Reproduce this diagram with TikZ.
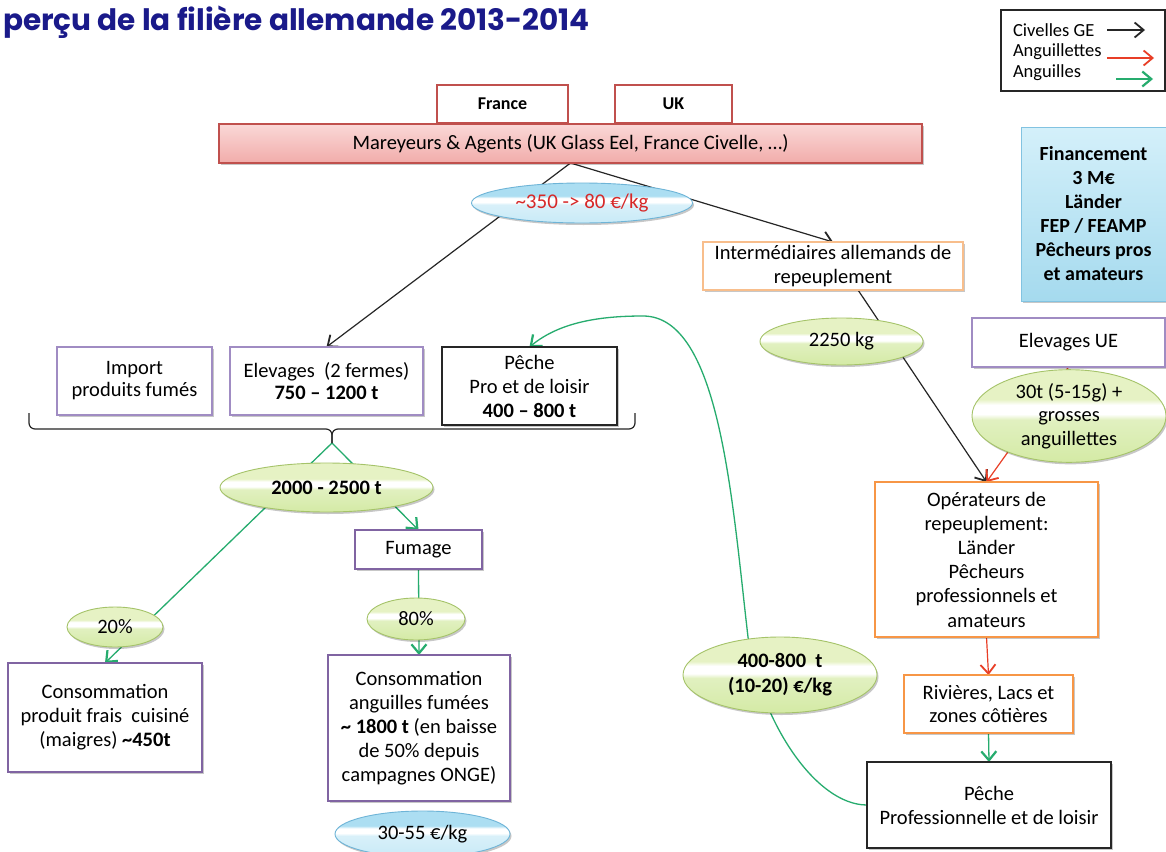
\documentclass[tikz,border=0pt]{standalone}
\usepackage{fontspec}
\setmainfont{Carlito}
\newfontfamily\titlefont{Poppins}
\usetikzlibrary{arrows.meta,shapes.geometric,backgrounds,shadows}
\definecolor{navy}{RGB}{26,26,138}
\definecolor{redb}{RGB}{192,80,77}
\definecolor{pinkT}{RGB}{250,216,215}
\definecolor{pinkB}{RGB}{241,172,170}
\definecolor{purL}{RGB}{160,140,195}
\definecolor{purD}{RGB}{128,100,162}
\definecolor{orL}{RGB}{248,190,140}
\definecolor{orD}{RGB}{247,150,70}
\definecolor{finT}{RGB}{212,240,250}
\definecolor{finB}{RGB}{165,218,238}
\definecolor{finD}{RGB}{130,195,225}
\definecolor{gT}{RGB}{230,242,196}
\definecolor{gB}{RGB}{212,234,165}
\definecolor{gD}{RGB}{165,195,105}
\definecolor{bT}{RGB}{172,222,242}
\definecolor{bB}{RGB}{200,234,247}
\definecolor{bD}{RGB}{110,180,215}
\definecolor{grn}{RGB}{38,172,110}
\definecolor{arr}{RGB}{232,62,38}
\definecolor{pricered}{RGB}{215,40,40}
\pgfdeclareverticalshading{gglos}{100bp}{color(0bp)=(gB); color(25bp)=(gB); color(48bp)=(gB!70!white); color(51bp)=(white); color(56bp)=(white); color(59bp)=(gT); color(75bp)=(gT); color(100bp)=(gT)}
\pgfdeclareverticalshading{bglos}{100bp}{color(0bp)=(bB); color(25bp)=(bB); color(48bp)=(bB!70!white); color(51bp)=(white); color(56bp)=(white); color(59bp)=(bT); color(75bp)=(bT); color(100bp)=(bT)}
\begin{document}
\begin{tikzpicture}[x=1pt,y=-1pt,
  every node/.style={inner sep=0pt, outer sep=0pt, align=center, font=\fontsize{20.5pt}{24pt}\selectfont},
  shad/.style={drop shadow={shadow xshift=1.5pt,shadow yshift=-2pt,opacity=0.22,fill=black}},
  bx/.style={rectangle, fill=white, line width=1.1pt},
  pthin/.style={bx, draw=purL, shad},
  pthick/.style={bx, draw=purD, line width=2.2pt, shad},
  othin/.style={bx, draw=orL, line width=1.3pt, shad},
  othick/.style={bx, draw=orD, line width=2.6pt, shad},
  kbox/.style={bx, draw=black!85, line width=1.2pt, shad},
  cbox/.style={bx, draw=redb, line width=1.6pt, font=\bfseries\fontsize{18pt}{20pt}\selectfont},
  gell/.style={ellipse, draw=gD, line width=0.9pt, shade, shading=gglos, shad},
  bell/.style={ellipse, draw=bD, line width=0.9pt, shade, shading=bglos, shad},
  kline/.style={draw=black!85, line width=1.2pt, -{Straight Barb[length=9pt,width=15pt,line width=1.8pt]}},
  rline/.style={draw=arr, line width=1.2pt, -{Straight Barb[length=9pt,width=15pt,line width=1.8pt]}},
  gline/.style={draw=grn, line width=1.3pt, -{Straight Barb[length=9pt,width=15pt,line width=2.2pt]}},
  legtxt/.style={anchor=west, font=\fontsize{18.5pt}{20pt}\selectfont}
]
\useasboundingbox (0,0) rectangle (1166,851);
\begin{pgfonlayer}{background}
\fill[white] (0,0) rectangle (1166,851);
\end{pgfonlayer}

% title
\node[font=\titlefont\bfseries\fontsize{29.5pt}{32pt}\selectfont, text=navy, anchor=base west] (title) at (3,31) {perçu de la filière allemande 2013-2014};

% legend
\node[draw=black!85, line width=1.2pt, minimum width=164pt, minimum height=81pt] (leg) at (1083,50.5) {};
\node[legtxt] (l1) at (1013,30) {Civelles GE};
\node[legtxt] (l2) at (1013,52) {Anguillettes};
\node[legtxt] (l3) at (1013,73) {Anguilles};
\coordinate (a1) at (1107,30); \coordinate (b1) at (1145,30);
\coordinate (a2) at (1107,58); \coordinate (b2) at (1154,58);
\coordinate (a3) at (1116,79); \coordinate (b3) at (1153,79);
\draw[kline] (a1) -- (b1);
\draw[rline] (a2) -- (b2);
\draw[gline] (a3) -- (b3);

% top
\node[cbox, minimum width=131pt, minimum height=38pt] (fr) at (502.5,104) {France};
\node[cbox, minimum width=117pt, minimum height=38pt] (uk) at (673.5,104) {UK};
\node[rectangle, draw=redb, line width=1.1pt, top color=pinkT, bottom color=pinkB, shad, minimum width=703pt, minimum height=39pt] (mar) at (570.5,143.5) {Mareyeurs \& Agents (UK Glass Eel, France Civelle, …)};
\node[bell, minimum width=221pt, minimum height=40pt, text=pricered, font=\fontsize{21pt}{22pt}\selectfont] (p350) at (582,203) {\textasciitilde350 -> 80 €/kg};

% right column
\node[othin, minimum width=260pt, minimum height=48pt] (inter) at (833,266) {Intermédiaires allemands de\\repeuplement};
\node[rectangle, draw=finD, line width=0.8pt, top color=finT, bottom color=finB, shad, minimum width=145pt, minimum height=174pt, font=\bfseries\fontsize{20pt}{24pt}\selectfont] (fin) at (1093.5,214) {Financement\\3 M€\\Länder\\FEP / FEAMP\\Pêcheurs pros\\et amateurs};
\node[gell, minimum width=163pt, minimum height=47pt] (p2250) at (841.5,341.5) {2250 kg};
\node[pthin, minimum width=193pt, minimum height=49pt] (elevue) at (1068.5,342.5) {Elevages UE};
\node[gell, minimum width=194pt, minimum height=78pt, font=\fontsize{20.5pt}{23.5pt}\selectfont] (p30) at (1069,416) {30t (5-15g) +\\grosses\\anguillettes};
\node[othick, minimum width=223pt, minimum height=155pt, font=\fontsize{20.5pt}{24.2pt}\selectfont] (oper) at (986.5,559.5) {Opérateurs de\\repeuplement:\\Länder\\Pêcheurs\\professionnels et\\amateurs};
\node[othick, minimum width=169pt, minimum height=58pt, font=\fontsize{20.5pt}{23pt}\selectfont] (riv) at (988.5,704) {Rivières, Lacs et\\zones côtières};
\node[kbox, minimum width=244pt, minimum height=86pt] (pp2) at (989,805) {Pêche\\Professionnelle et de loisir};
\node[gell, minimum width=194pt, minimum height=76pt, font=\bfseries\fontsize{20.5pt}{25pt}\selectfont] (p400) at (780,675) {400-800\ \ t\\(10-20) €/kg};

% left part
\node[pthin, minimum width=155pt, minimum height=68pt, font=\fontsize{20.5pt}{22pt}\selectfont] (imp) at (134.5,381) {Import\\produits fumés};
\node[pthin, minimum width=193pt, minimum height=68pt, font=\fontsize{20.5pt}{22pt}\selectfont] (elev) at (326.5,381) {Elevages\ \ (2 fermes)\\\textbf{750 – 1200 t}};
\node[kbox, minimum width=175pt, minimum height=78pt] (pb) at (529.5,386) {Pêche\\Pro et de loisir\\\textbf{400 – 800 t}};
\node[gell, minimum width=213pt, minimum height=49pt, font=\bfseries\fontsize{20.5pt}{22pt}\selectfont] (p2000) at (326.5,487.5) {2000 - 2500 t};
\node[pthick, minimum width=127pt, minimum height=39pt] (fum) at (418.5,549.5) {Fumage};
\node[gell, minimum width=96pt, minimum height=40pt] (p20) at (115,627) {20\%};
\node[pthick, minimum width=194pt, minimum height=109pt] (frais) at (105,717.5) {Consommation\\produit frais\ \ cuisiné\\(maigres) \textbf{\textasciitilde450t}};
\node[gell, minimum width=98pt, minimum height=42pt] (p80) at (416,619) {80\%};
\node[pthick, minimum width=182pt, minimum height=146pt] (fumees) at (419,728) {Consommation\\anguilles fumées\\\textbf{\textasciitilde{} 1800 t} (en baisse\\de 50\% depuis\\campagnes ONGE)};
\node[bell, minimum width=175pt, minimum height=46pt] (p3055) at (422.5,834) {30-55 €/kg};

% brace
\draw[black!85, line width=1.2pt, rounded corners=6pt] (29,413) |- (332,429) -- (332,443);
\draw[black!85, line width=1.2pt, rounded corners=6pt] (635,413) |- (332,429) -- (332,443);
\coordinate (bt) at (332,443);

% connectors
\begin{pgfonlayer}{background}
\draw[kline] (mar.south) -- (elev.north);
\draw[kline] (mar.south) -- (inter.north);
\draw[kline] ([xshift=25pt]inter.south) -- (oper.north);
\draw[rline] (elevue.south) -- (oper.north);
\draw[rline] (oper.south) -- (riv.north);
\draw[gline] (riv.south) -- (pp2.north);
\draw[gline] (bt) -- (frais.north);
\draw[gline] (bt) -- (fum.north);
\draw[gline] (fum.south) -- (fumees.north);
\draw[gline] (pp2.west) .. controls (815,805) and (760,720) .. (748,637) .. controls (732,500) and (720,316) .. (643,316) .. controls (600,316) and (560,322) .. (pb.north);
\end{pgfonlayer}
\end{tikzpicture}
\end{document}
